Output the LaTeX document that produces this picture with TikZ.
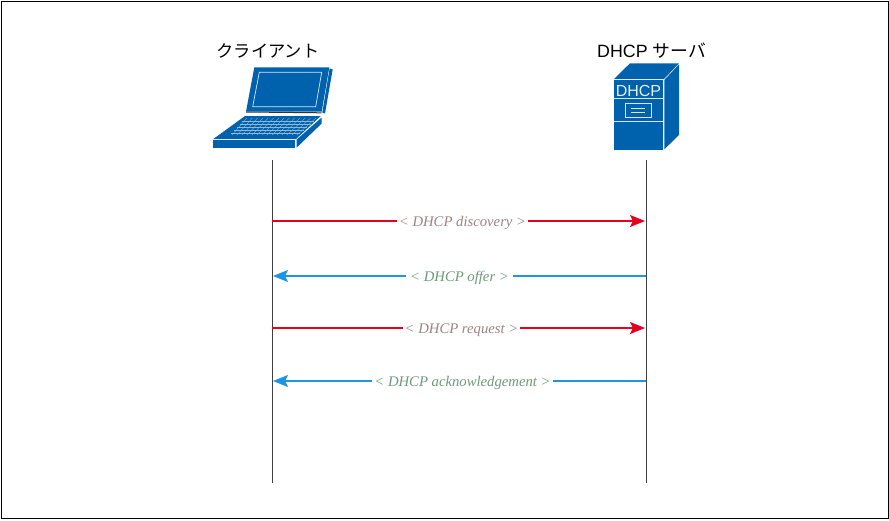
\documentclass[tikz,border=0pt]{standalone}
\usepackage{fontspec}
\setmainfont{Liberation Sans}
\newfontfamily\jpfont{Noto Sans CJK JP}
\newfontfamily\labelfont[Ligatures=TeX]{Liberation Serif}
\usetikzlibrary{arrows.meta}
\definecolor{devblue}{HTML}{0061AC}
\definecolor{redline}{HTML}{E60020}
\definecolor{blueline}{HTML}{1B96E6}
\definecolor{redtext}{HTML}{9A8585}
\definecolor{greentext}{HTML}{6F9A7A}
\tikzset{
  title/.style={font=\fontsize{17.2}{19}\selectfont,text=black,inner sep=0pt},
  lifeline/.style={draw=black!75,line width=0.9pt},
  devface/.style={fill=devblue,draw=none},
  devline/.style={draw=white!85!devblue,line width=0.7pt},
  msgred/.style={draw=redline,line width=1.35pt},
  msgblue/.style={draw=blueline,line width=1.35pt},
  tip/.style={-{Stealth[length=15pt,width=12pt,inset=3pt]}},
  msg/.style={fill=white,inner xsep=2pt,inner ysep=1pt,font=\labelfont\itshape\fontsize{14.7}{16}\selectfont,yshift=-2pt},
}
\begin{document}
\begin{tikzpicture}[x=1pt,y=-1pt]
\useasboundingbox (0,0) rectangle (889,520);
\draw[black,line width=1pt] (1,1) rectangle (888,518.5);
% titles
\node[title] (client) at (268,51) {\jpfont クライアント};
\node[title,font=\fontsize{17.8}{19}\selectfont] (server) at (651.5,51) {DHCP \jpfont サーバ};
% laptop
\fill[devface] (254.3,67.3) -- (329.3,67.3) -- (321.7,111.7) -- (246,111.7) -- cycle;
\fill[devface] (329.6,68.5) -- (332.7,69.3) -- (325,113.5) -- (322.3,112.5) -- cycle;
\draw[devline] (259.3,72.3) -- (321.7,72.3) -- (315.7,106.7) -- (252.7,106.7) -- cycle;
\draw[black!80,line width=1pt] (246,112) -- (321.7,112.8);
\fill[devface] (245,116) -- (320.7,116) -- (296,139) -- (213.3,139) -- cycle;
\fill[devface] (213.3,140) -- (295,140) -- (295,147.5) -- (213.3,147.5) -- cycle;
\fill[devface] (296.7,139.5) -- (321.7,117.5) -- (321.7,123.5) -- (296.7,147.5) -- cycle;
\begin{scope}[white!55!devblue,line width=0.35pt]
  \foreach \t in {0.17,0.34,0.51,0.68,0.85}
    \draw ({245+(229-245)*\t},{118+18*\t}) -- ({318-(318-297)*\t},{118+18*\t});
  \foreach \t in {0,...,13}
    \draw ({247+5.3*\t},118) -- ({232+5.0*\t},135);
\end{scope}
% server
\fill[devface] (614,79) -- (630,63.3) -- (679,63.3) -- (664,79) -- cycle;
\fill[devface] (614,80) -- (663.3,80) -- (663.3,150) -- (614,150) -- cycle;
\fill[devface] (664.3,80) -- (679,64.3) -- (679,135) -- (664.3,149.3) -- cycle;
\draw[devline] (614,98.3) -- (663.3,98.3) (614,121.7) -- (663.3,121.7);
\draw[devline,line width=1pt] (625.3,103.3) rectangle (651,117.3);
\draw[devline] (630.7,108.3) -- (645,108.3) (630.7,112) -- (645,112);
\node[text=white!90!devblue,inner sep=0pt,font=\fontsize{16}{18}\selectfont] (dhcp) at (638.5,91) {DHCP};
% lifelines
\coordinate (ctop) at (272,159.5);
\coordinate (cbot) at (272,482.5);
\coordinate (stop) at (646,159.5);
\coordinate (sbot) at (646,482.5);
\draw[lifeline] (ctop) -- (cbot);
\draw[lifeline] (stop) -- (sbot);
% messages
\coordinate (c1) at (272,221); \coordinate (s1) at (645,221);
\coordinate (c2) at (273,276); \coordinate (s2) at (646,276);
\coordinate (c3) at (272,328); \coordinate (s3) at (645,328);
\coordinate (c4) at (273,381); \coordinate (s4) at (646,381);
\draw[msgred,tip] (c1) -- (s1);
\path (c1) -- node[msg,text=redtext,xshift=4pt] (m1) {< DHCP discovery >} (s1);
\draw[msgblue,tip] (s2) -- (c2);
\path (s2) -- node[msg,text=greentext,inner xsep=4pt] (m2) {< DHCP offer >} (c2);
\draw[msgred,tip] (c3) -- (s3);
\path (c3) -- node[msg,text=redtext,xshift=3pt] (m3) {< DHCP request >} (s3);
\draw[msgblue,tip] (s4) -- (c4);
\path (s4) -- node[msg,text=greentext,xshift=3pt] (m4) {< DHCP acknowledgement >} (c4);
\end{tikzpicture}
\end{document}
